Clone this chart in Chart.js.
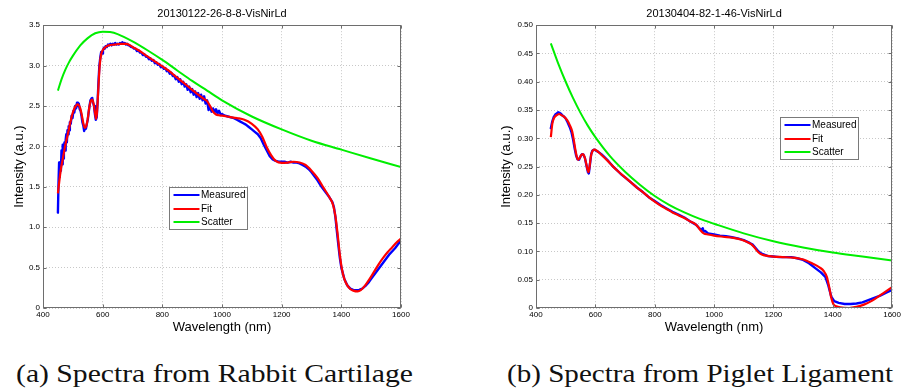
<!DOCTYPE html>
<html>
<head>
<meta charset="utf-8">
<script src="https://cdn.jsdelivr.net/npm/chart.js@4.4.1/dist/chart.umd.min.js"></script>
<style>
html,body{margin:0;padding:0;background:#fff;}
#wrap{position:relative;width:903px;height:392px;overflow:hidden;background:#fff;}
canvas{position:absolute;top:0;}
.cap{position:absolute;top:361px;font-family:'Liberation Serif','DejaVu Serif',serif;font-size:26px;line-height:26px;color:#111;white-space:nowrap;transform-origin:0 0;}
</style>
</head>
<body>
<div id="wrap">
<canvas id="cA" width="450" height="340" style="left:0px"></canvas>
<canvas id="cB" width="453" height="340" style="left:450px"></canvas>
<div class="cap" id="capA" style="left:16px">(a) Spectra from Rabbit Cartilage</div>
<div class="cap" id="capB" style="left:507px">(b) Spectra from Piglet Ligament</div>
</div>
<script>
// ---------- DATA ----------
const titleA = '20130122-26-8-8-VisNirLd';
const titleB = '20130404-82-1-46-VisNirLd';
const seriesNames = ['Measured', 'Fit', 'Scatter'];
const xTicks = [400, 600, 800, 1000, 1200, 1400, 1600];

// (a) Rabbit cartilage
const wlMeasA = [450,452,454,456,458,460,462,464,466,468,470,472,474,476,478,480,482,484,486,488,490,493,496,499,502,505,508,511,514,517,520,523,526,529,532,535,538,541,544,547,550,553,556,559,562,565,568,571,574,577,580,583,586,589,592,595,598,601,604,607,610,614,618,622,626,630,634,638,642,646,650,654,658,662,666,670,674,678,682,686,690,695,700,705,710,715,720,725,730,735,740,745,750,755,760,765,770,775,780,785,790,795,800,805,810,815,820,825,830,835,840,845,850,855,860,865,870,875,880,885,890,895,900,905,910,915,920,925,930,935,940,945,950,955,960,965,970,975,980,985,990,995,1000,1010,1020,1030,1040,1050,1060,1070,1080,1090,1100,1110,1120,1130,1140,1150,1160,1170,1180,1190,1200,1210,1220,1230,1240,1250,1260,1270,1280,1290,1300,1310,1320,1330,1340,1350,1360,1370,1375,1380,1385,1390,1395,1400,1410,1420,1430,1440,1450,1460,1470,1480,1490,1500,1510,1520,1530,1540,1550,1560,1570,1580,1590,1600];
const measuredA = [1.18,1.55,1.80,1.62,1.78,1.70,1.95,1.78,2.02,1.85,1.98,2.05,1.95,2.08,2.15,2.05,2.20,2.15,2.25,2.20,2.30,2.28,2.38,2.35,2.44,2.42,2.50,2.47,2.54,2.50,2.53,2.46,2.44,2.38,2.30,2.26,2.19,2.23,2.22,2.28,2.33,2.42,2.50,2.57,2.59,2.60,2.54,2.50,2.40,2.33,2.36,2.55,2.80,3.00,3.10,3.17,3.15,3.19,3.22,3.21,3.24,3.23,3.26,3.25,3.27,3.25,3.27,3.26,3.28,3.26,3.27,3.26,3.28,3.27,3.29,3.27,3.28,3.26,3.27,3.25,3.25,3.23,3.23,3.21,3.21,3.18,3.19,3.16,3.16,3.13,3.14,3.11,3.11,3.08,3.09,3.06,3.07,3.03,3.04,3.01,3.02,2.98,2.99,2.96,2.97,2.93,2.94,2.90,2.91,2.87,2.88,2.83,2.86,2.80,2.83,2.77,2.80,2.74,2.77,2.70,2.74,2.67,2.71,2.64,2.68,2.61,2.66,2.59,2.64,2.57,2.62,2.53,2.57,2.45,2.49,2.43,2.47,2.42,2.46,2.41,2.44,2.40,2.40,2.38,2.37,2.36,2.35,2.33,2.31,2.29,2.27,2.24,2.21,2.18,2.15,2.10,2.02,1.95,1.88,1.84,1.82,1.81,1.81,1.81,1.80,1.81,1.80,1.80,1.79,1.77,1.75,1.72,1.68,1.63,1.58,1.52,1.47,1.42,1.37,1.31,1.25,1.13,0.95,0.78,0.62,0.50,0.36,0.28,0.24,0.225,0.22,0.225,0.24,0.27,0.31,0.36,0.41,0.46,0.51,0.56,0.61,0.66,0.70,0.74,0.79,0.83];
const wlFitA = [450,455,460,465,470,475,480,485,490,495,500,505,510,515,520,525,530,535,540,545,550,555,560,565,570,575,578,581,585,590,595,600,610,620,640,660,680,700,720,740,760,780,800,820,840,860,880,900,920,940,950,960,970,980,990,1000,1025,1050,1075,1100,1120,1135,1150,1165,1180,1200,1220,1240,1260,1280,1300,1320,1340,1360,1372,1380,1388,1395,1402,1410,1420,1430,1440,1455,1465,1480,1495,1510,1525,1540,1555,1570,1585,1600];
const fitA = [1.42,1.58,1.72,1.82,1.92,2.02,2.10,2.18,2.27,2.35,2.42,2.47,2.50,2.52,2.51,2.47,2.39,2.29,2.23,2.25,2.34,2.48,2.56,2.58,2.52,2.40,2.34,2.42,2.68,3.00,3.14,3.19,3.23,3.25,3.26,3.27,3.27,3.23,3.19,3.14,3.09,3.04,2.99,2.94,2.88,2.82,2.76,2.70,2.64,2.585,2.56,2.50,2.43,2.395,2.385,2.38,2.365,2.35,2.33,2.28,2.21,2.12,1.99,1.89,1.82,1.795,1.80,1.81,1.80,1.77,1.70,1.61,1.49,1.37,1.28,1.14,0.90,0.66,0.48,0.36,0.28,0.235,0.215,0.205,0.22,0.28,0.36,0.45,0.54,0.62,0.69,0.75,0.81,0.86];
const wlScatA = [450,462,475,487,500,525,550,575,600,625,650,700,750,800,850,900,950,1000,1100,1200,1300,1400,1500,1600];
const scatterA = [2.69,2.83,2.95,3.04,3.12,3.25,3.34,3.40,3.42,3.415,3.39,3.30,3.19,3.07,2.94,2.81,2.69,2.57,2.37,2.21,2.07,1.96,1.85,1.745];

// (b) Piglet ligament
const wlMeasB = [450,455,460,465,470,475,480,485,490,495,500,505,510,515,520,525,530,535,540,545,550,555,560,565,570,575,578,582,586,590,595,600,610,620,630,640,650,660,670,680,690,700,720,740,760,780,800,820,840,860,880,900,920,930,940,950,960,962,965,970,980,990,1000,1020,1040,1060,1080,1100,1120,1130,1140,1150,1160,1180,1200,1220,1240,1260,1280,1300,1320,1340,1360,1375,1385,1395,1405,1420,1440,1460,1480,1500,1520,1540,1560,1580,1600];
const measuredB = [0.318,0.330,0.338,0.342,0.344,0.346,0.345,0.343,0.340,0.338,0.335,0.330,0.324,0.318,0.310,0.298,0.283,0.270,0.263,0.262,0.268,0.272,0.271,0.265,0.252,0.240,0.238,0.255,0.272,0.278,0.280,0.279,0.276,0.272,0.267,0.262,0.256,0.250,0.245,0.240,0.235,0.231,0.222,0.213,0.205,0.196,0.189,0.182,0.176,0.170,0.165,0.160,0.153,0.150,0.147,0.141,0.138,0.141,0.135,0.136,0.132,0.131,0.130,0.128,0.127,0.125,0.123,0.120,0.115,0.112,0.106,0.100,0.096,0.092,0.091,0.090,0.090,0.090,0.088,0.085,0.079,0.071,0.063,0.055,0.040,0.020,0.012,0.009,0.007,0.007,0.008,0.010,0.014,0.018,0.022,0.027,0.032];
const wlFitB = [450,455,460,465,470,478,485,495,505,515,522,528,533,538,542,547,552,558,563,568,573,577,581,585,590,597,605,620,640,660,680,700,720,740,760,780,800,820,840,860,880,900,920,935,945,955,965,980,1000,1030,1065,1090,1110,1125,1135,1145,1155,1170,1200,1230,1266,1290,1310,1330,1355,1370,1380,1388,1395,1402,1412,1425,1455,1480,1505,1533,1567,1600];
const fitB = [0.302,0.326,0.335,0.339,0.341,0.343,0.341,0.338,0.332,0.322,0.312,0.295,0.279,0.266,0.262,0.265,0.270,0.272,0.268,0.258,0.246,0.240,0.252,0.268,0.277,0.280,0.278,0.271,0.261,0.250,0.240,0.231,0.222,0.213,0.205,0.196,0.188,0.181,0.175,0.169,0.164,0.159,0.153,0.149,0.144,0.137,0.132,0.130,0.128,0.126,0.124,0.121,0.117,0.113,0.108,0.101,0.096,0.093,0.091,0.090,0.089,0.087,0.084,0.079,0.072,0.065,0.055,0.037,0.018,0.007,0.003,0.001,0.000,0.002,0.006,0.013,0.025,0.037];
const wlScatB = [450,475,500,525,550,575,600,650,700,750,800,850,900,950,1000,1100,1200,1300,1400,1500,1600];
const scatterB = [0.468,0.432,0.400,0.371,0.345,0.322,0.302,0.268,0.241,0.218,0.198,0.182,0.169,0.158,0.149,0.132,0.118,0.107,0.098,0.091,0.084];

// ---------- HELPERS ----------
const toPts = (xs, ys) => xs.map((x, i) => ({x, y: ys[i]}));

const boxPlugin = {
  id: 'axbox',
  afterDatasetsDraw(chart) {
    const {ctx, chartArea: a, scales} = chart;
    const L = Math.round(a.left) + 0.5, R = Math.round(a.right) - 0.5;
    const T = Math.round(a.top) + 0.5, B = Math.round(a.bottom) - 0.5;
    ctx.save();
    ctx.strokeStyle = '#6e6e6e';
    ctx.lineWidth = 1;
    ctx.setLineDash([]);
    ctx.strokeRect(L, T, R - L, B - T);
    const tl = 3;
    ctx.beginPath();
    scales.x.ticks.forEach(t => {
      const p = Math.round(scales.x.getPixelForValue(t.value)) + 0.5;
      ctx.moveTo(p, B); ctx.lineTo(p, B - tl);
      ctx.moveTo(p, T); ctx.lineTo(p, T + tl);
    });
    scales.y.ticks.forEach(t => {
      const p = Math.round(scales.y.getPixelForValue(t.value)) + 0.5;
      ctx.moveTo(L, p); ctx.lineTo(L + tl, p);
      ctx.moveTo(R, p); ctx.lineTo(R - tl, p);
    });
    ctx.stroke();
    ctx.restore();
  }
};

const legendPlugin = {
  id: 'boxLegend',
  afterDraw(chart, args, opts) {
    const {ctx, chartArea: a} = chart;
    const x0 = Math.round(a.left + opts.fx * (a.right - a.left)) + 0.5;
    const y0 = Math.round(a.top + opts.fy * (a.bottom - a.top)) + 0.5;
    const w = 78, h = 42, rowH = 13.6;
    ctx.save();
    ctx.fillStyle = '#fff';
    ctx.fillRect(x0, y0, w, h);
    ctx.strokeStyle = '#7a7a7a';
    ctx.lineWidth = 1;
    ctx.strokeRect(x0, y0, w, h);
    ctx.font = '10px "Liberation Sans", Arial, sans-serif';
    ctx.textBaseline = 'middle';
    ctx.textAlign = 'left';
    chart.data.datasets.forEach((ds, i) => {
      const yy = Math.round(y0 + 7.5 + i * rowH);
      ctx.strokeStyle = ds.borderColor;
      ctx.lineWidth = 2;
      ctx.beginPath();
      ctx.moveTo(x0 + 4, yy); ctx.lineTo(x0 + 30, yy);
      ctx.stroke();
      ctx.fillStyle = '#000';
      ctx.fillText(ds.label, x0 + 31.5, yy + 0.5);
    });
    ctx.restore();
  }
};

function makeChart(id, title, meas, fit, scat, ymax, ystep, yAxisW, yTitlePad, padRight, legPos) {
  const fontFam = '"Liberation Sans", Arial, Helvetica, sans-serif';
  return new Chart(document.getElementById(id), {
    type: 'line',
    data: {
      datasets: [
        {label: seriesNames[0], data: meas, borderColor: '#0000ff', borderWidth: 2.4, borderJoinStyle: 'round', borderCapStyle: 'round', pointRadius: 0, tension: 0, order: 2},
        {label: seriesNames[1], data: fit, borderColor: '#ff0000', borderWidth: 2.2, borderJoinStyle: 'round', pointRadius: 0, cubicInterpolationMode: 'monotone', order: 1},
        {label: seriesNames[2], data: scat, borderColor: '#00ee00', borderWidth: 2, borderJoinStyle: 'round', pointRadius: 0, cubicInterpolationMode: 'monotone', order: 0}
      ]
    },
    options: {
      responsive: false,
      animation: false,
      devicePixelRatio: 1,
      layout: {padding: {left: 0, right: padRight, top: 0, bottom: 0}},
      plugins: {
        legend: {display: false},
        tooltip: {enabled: false},
        title: {display: true, text: title, fullSize: false, color: '#000',
          font: {size: 11, family: fontFam, weight: 'normal'}, padding: {top: 7, bottom: 5}},
        boxLegend: legPos
      },
      scales: {
        x: {
          type: 'linear', min: 400, max: 1600,
          afterBuildTicks: s => { s.ticks = xTicks.map(v => ({value: v})); },
          afterFit: s => { s.height = 32; },
          grid: {color: '#c8c8c8', lineWidth: 1, drawTicks: false},
          border: {display: false, dash: [1, 2]},
          ticks: {callback: v => String(v), autoSkip: false, maxRotation: 0, padding: 2, color: '#000',
            font: {size: 8, family: fontFam}},
          title: {display: true, text: 'Wavelength (nm)', color: '#000', font: {size: 13, family: fontFam}, padding: {top: 0, bottom: 5}}
        },
        y: {
          type: 'linear', min: 0, max: ymax,
          ticks: {stepSize: ystep, padding: 3, color: '#000', font: {size: 8, family: fontFam}},
          afterFit: s => { s.width = yAxisW; },
          grid: {color: '#c8c8c8', lineWidth: 1, drawTicks: false},
          border: {display: false, dash: [1, 2]},
          title: {display: true, text: 'Intensity (a.u.)', color: '#000', font: {size: 13, family: fontFam}, padding: {top: yTitlePad, bottom: 0}}
        }
      }
    },
    plugins: [boxPlugin, legendPlugin]
  });
}

makeChart('cA', titleA, toPts(wlMeasA, measuredA), toPts(wlFitA, fitA), toPts(wlScatA, scatterA),
  3.5, 0.5, 43, 12, 49, {fx: 0.353, fy: 0.571});
makeChart('cB', titleB, toPts(wlMeasB, measuredB), toPts(wlFitB, fitB), toPts(wlScatB, scatterB),
  0.5, 0.05, 86, 49, 10, {fx: 0.685, fy: 0.324});

// captions: scale horizontally to match the reference widths
function fitCap(id, target) {
  const el = document.getElementById(id);
  const w = el.getBoundingClientRect().width;
  el.style.transform = 'scaleX(' + (target / w) + ')';
}
fitCap('capA', 397);
fitCap('capB', 386);
</script>
</body>
</html>
